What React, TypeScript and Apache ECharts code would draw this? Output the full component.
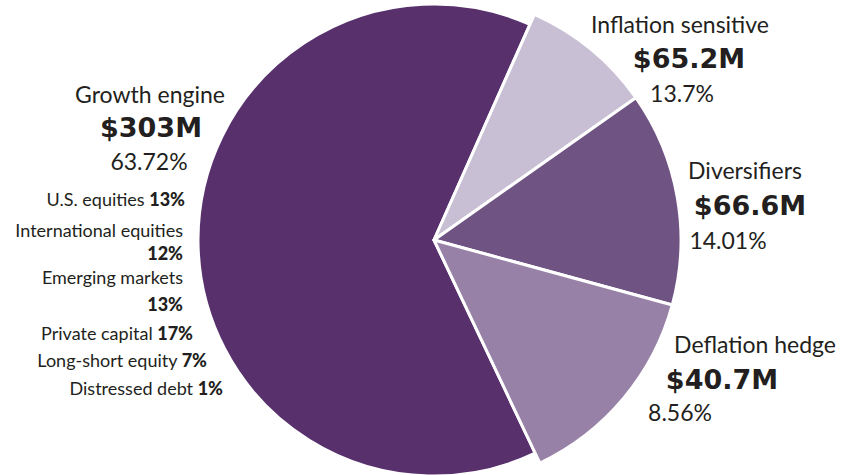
import React, { useEffect, useRef } from "react";
import * as echarts from "echarts";

// Categories in drawing order (clockwise from the top-right)
const categories = ["Inflation sensitive", "Diversifiers", "Deflation hedge", "Growth engine"];
// Slice shares as drawn in the picture (percent of the circle)
const sliceShares = [8.56, 14.01, 13.71, 63.72];
// Printed labels
const dollarLabels = ["$65.2M", "$66.6M", "$40.7M", "$303M"];
const pctLabels = ["13.7%", "14.01%", "8.56%", "63.72%"];
const sliceColors = ["#c8bfd4", "#6f5483", "#9781a7", "#57306c"];

// Growth engine breakdown
const subNames = ["U.S. equities", "International equities", "Emerging markets", "Private capital", "Long-short equity", "Distressed debt"];
const subPcts = ["13%", "12%", "13%", "17%", "7%", "1%"];

const FONT = "Lato, 'Open Sans', sans-serif";
const BOLD_FONT = "'DejaVu Sans', Lato, sans-serif";
const INK = "#231f20";

export default function App() {
  const ref = useRef<HTMLDivElement>(null);
  useEffect(() => {
    if (!ref.current) return;
    const chart = echarts.init(ref.current, undefined, { renderer: "svg" });

    const growthIdx = categories.indexOf("Growth engine");
    const mkData = (visibleGrowth: boolean) =>
      categories.map((c, i) => {
        const show = visibleGrowth ? i === growthIdx : i !== growthIdx;
        return {
          name: c,
          value: sliceShares[i],
          itemStyle: show
            ? { color: sliceColors[i], borderColor: "#ffffff", borderWidth: 3 }
            : { color: "transparent", borderColor: "transparent", borderWidth: 0 },
        };
      });

    // headline label positions (centers)
    const head: { x: number[]; y: number[] }[] = [
      { x: [680, 689, 682], y: [24, 58, 93] },
      { x: [745, 750, 728], y: [170, 205, 240] },
      { x: [755, 722, 680], y: [344, 379, 412] },
      { x: [150, 151, 149], y: [94, 127, 161] },
    ];
    const graphics: any[] = [];
    categories.forEach((c, i) => {
      const h = head[i];
      graphics.push({
        type: "text", x: h.x[0], y: h.y[0],
        style: { text: c, fontFamily: FONT, fontSize: 23, fill: INK, align: "center", verticalAlign: "middle" },
      });
      graphics.push({
        type: "text", x: h.x[1], y: h.y[1],
        style: { text: dollarLabels[i], fontFamily: BOLD_FONT, fontSize: 27, fontWeight: "bold", fill: INK, align: "center", verticalAlign: "middle" },
      });
      graphics.push({
        type: "text", x: h.x[2], y: h.y[2],
        style: { text: pctLabels[i], fontFamily: FONT, fontSize: 23, fill: INK, align: "center", verticalAlign: "middle" },
      });
    });

    // sub-items: right aligned, two-line ones split
    const subLines: { text: string; x: number; y: number }[] = [
      { text: `${subNames[0]} {b|${subPcts[0]}}`, x: 185, y: 199 },
      { text: subNames[1], x: 183, y: 230 },
      { text: `{b|${subPcts[1]}}`, x: 183, y: 253 },
      { text: subNames[2], x: 183, y: 277 },
      { text: `{b|${subPcts[2]}}`, x: 183, y: 304 },
      { text: `${subNames[3]} {b|${subPcts[3]}}`, x: 193, y: 333 },
      { text: `${subNames[4]} {b|${subPcts[4]}}`, x: 207, y: 360 },
      { text: `${subNames[5]} {b|${subPcts[5]}}`, x: 223, y: 388 },
    ];
    subLines.forEach((s) => {
      graphics.push({
        type: "text", x: s.x, y: s.y,
        style: {
          text: s.text, fontFamily: FONT, fontSize: 18, fill: INK, align: "right", verticalAlign: "middle",
          rich: { b: { fontFamily: FONT, fontSize: 18, fontWeight: 900, fill: INK } },
        },
      });
    });

    chart.setOption({
      animation: false,
      backgroundColor: "#ffffff",
      series: [
        {
          type: "pie", silent: true, center: [434, 240], radius: [0, 236],
          startAngle: 66, clockwise: true, label: { show: false }, labelLine: { show: false },
          emphasis: { disabled: true }, data: mkData(true),
        },
        {
          type: "pie", silent: true, center: [434, 240], radius: [0, 247],
          startAngle: 66, clockwise: true, label: { show: false }, labelLine: { show: false },
          emphasis: { disabled: true }, data: mkData(false),
        },
      ],
      graphic: graphics,
    });
    return () => chart.dispose();
  }, []);
  return <div ref={ref} style={{ position: "absolute", left: 0, top: 0, width: 851, height: 475 }} />;
}
